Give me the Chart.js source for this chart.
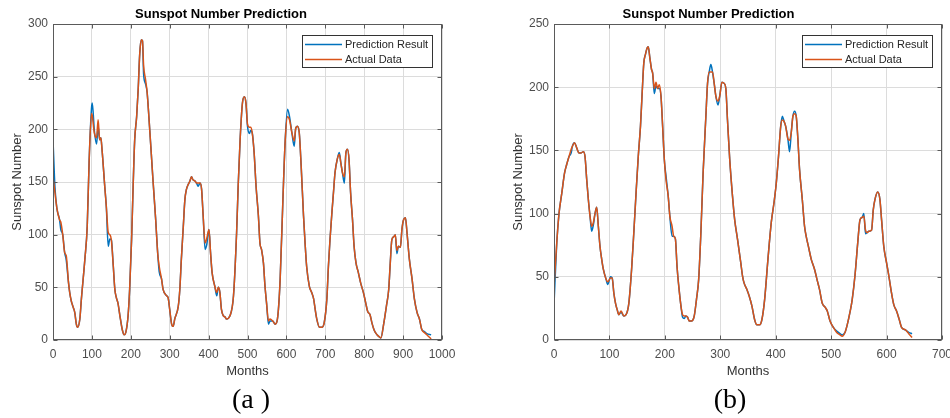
<!DOCTYPE html>
<html>
<head>
<meta charset="utf-8">
<title>Sunspot Number Prediction</title>
<script src="https://cdn.jsdelivr.net/npm/chart.js@4"></script>
<style>
html, body { margin: 0; padding: 0; background: #fff; overflow: hidden; }
body { width: 950px; height: 418px; position: relative; }
canvas { position: absolute; top: 0; }
#chartA { left: 0; }
#chartB { left: 475px; }
.caption {
    position: absolute; top: 385px; width: 120px; text-align: center;
    font-family: "Liberation Serif", "Times New Roman", serif;
    font-size: 28px; line-height: 28px; color: #000;
}
</style>
</head>
<body>
<canvas id="chartA" width="475" height="385"></canvas>
<canvas id="chartB" width="490" height="385"></canvas>
<div class="caption" style="left:191px">(a )</div>
<div class="caption" style="left:670px">(b)</div>
<script>
// (a) months / values
const monthsA = [
    0, 5, 10, 17, 20, 25, 30, 34, 40, 43,
    47, 52, 56, 60, 63, 69, 73, 82, 88, 93,
    99, 101, 106, 112, 116, 120, 123, 126, 133, 137,
    142, 146, 150, 155, 159, 163, 167, 172, 178, 183,
    187, 193, 197, 202, 206, 210, 215, 219, 223, 227,
    230, 233, 238, 242, 247, 253, 257, 264, 269, 273,
    279, 283, 292, 296, 300, 305, 309, 313, 322, 326,
    330, 335, 339, 343, 348, 352, 356, 360, 365, 369,
    373, 378, 382, 386, 391, 395, 401, 405, 409, 416,
    421, 425, 429, 433, 438, 442, 446, 455, 464, 472,
    476, 481, 487, 492, 496, 500, 505, 508, 512, 517,
    522, 528, 532, 536, 541, 545, 549, 554, 558, 565,
    571, 577, 584, 591, 597, 603, 608, 614, 620, 624,
    628, 633, 638, 644, 648, 652, 659, 665, 670, 674,
    678, 685, 691, 697, 704, 708, 712, 717, 721, 725,
    731, 736, 740, 744, 749, 753, 757, 761, 765, 770,
    774, 779, 785, 791, 798, 804, 809, 815, 820, 826,
    833, 839, 843, 850, 857, 863, 867, 871, 876, 880,
    884, 888, 893, 897, 901, 906, 910, 916, 923, 929,
    936, 942, 948, 955, 961, 972
]
const actualA = [
    155, 140, 125, 114, 112, 100, 83, 80, 54, 45,
    37, 31, 26, 15, 12, 20, 39, 77, 108, 171,
    215, 213, 197, 192, 209, 190, 192, 181, 146, 127,
    102, 100, 95, 70, 48, 40, 35, 23, 10, 5,
    7, 23, 48, 95, 146, 190, 212, 238, 272, 285,
    284, 260, 247, 235, 209, 175, 152, 114, 83, 70,
    58, 48, 42, 40, 29, 15, 13, 20, 32, 48,
    77, 108, 133, 143, 148, 151, 155, 152, 151, 149,
    149, 149, 143, 118, 92, 96, 105, 83, 64, 51,
    45, 50, 45, 29, 23, 22, 20, 23, 42, 102,
    146, 190, 225, 231, 225, 205, 202, 202, 197, 178,
    146, 118, 92, 86, 73, 51, 35, 18, 20, 18,
    15, 20, 58, 133, 190, 212, 209, 197, 189, 201,
    203, 197, 165, 118, 92, 70, 51, 45, 39, 29,
    20, 12, 12, 16, 39, 70, 95, 121, 140, 159,
    172, 176, 168, 159, 155, 178, 181, 171, 140, 114,
    89, 73, 64, 54, 45, 35, 27, 24, 16, 9,
    5, 3, 2, 15, 32, 48, 73, 95, 98, 100,
    85, 89, 88, 105, 114, 116, 102, 77, 58, 39,
    26, 20, 10, 7, 5, 1
]
const predA = [
    190, 145, 125, 114, 105, 100, 83, 76, 54, 45,
    37, 31, 26, 15, 12, 20, 39, 77, 108, 171,
    220, 225, 200, 186, 203, 190, 192, 181, 146, 127,
    89, 96, 95, 70, 48, 40, 35, 23, 10, 5,
    7, 23, 48, 95, 146, 190, 212, 238, 272, 285,
    284, 252, 243, 235, 209, 175, 152, 114, 83, 65,
    58, 48, 42, 40, 29, 15, 13, 20, 32, 48,
    77, 108, 133, 143, 148, 151, 155, 152, 151, 149,
    146, 149, 143, 118, 86, 90, 105, 83, 64, 51,
    42, 50, 45, 29, 23, 22, 20, 23, 42, 102,
    146, 190, 225, 231, 225, 203, 196, 199, 197, 178,
    146, 118, 92, 86, 73, 51, 35, 15, 18, 18,
    15, 20, 58, 133, 190, 219, 212, 197, 184, 201,
    203, 197, 165, 118, 92, 70, 51, 45, 39, 29,
    20, 12, 12, 16, 39, 70, 95, 121, 140, 159,
    172, 178, 168, 159, 149, 178, 181, 171, 140, 114,
    89, 73, 64, 54, 45, 35, 27, 24, 16, 9,
    5, 3, 2, 15, 32, 48, 73, 95, 98, 100,
    82, 89, 88, 105, 114, 116, 102, 77, 58, 39,
    26, 20, 10, 8, 6, 5
]

// (b) right panel
const monthsB = [
    0, 5, 9, 14, 19, 23, 27, 31, 33, 37,
    41, 45, 49, 53, 56, 59, 62, 65, 68, 71,
    74, 77, 80, 83, 86, 89, 94, 97, 102, 105,
    108, 111, 114, 117, 121, 126, 130, 135, 140, 144,
    148, 152, 156, 159, 162, 165, 168, 170, 173, 176,
    178, 181, 184, 187, 190, 193, 196, 199, 202, 206,
    209, 213, 216, 219, 222, 225, 229, 232, 235, 238,
    241, 244, 248, 253, 257, 261, 265, 269, 274, 277,
    280, 283, 286, 289, 292, 296, 299, 303, 307, 310,
    313, 317, 322, 326, 331, 337, 340, 343, 348, 352,
    357, 362, 366, 371, 375, 380, 386, 392, 397, 401,
    405, 409, 412, 415, 418, 422, 425, 428, 431, 434,
    437, 440, 443, 448, 452, 455, 460, 464, 470, 475,
    479, 484, 489, 493, 498, 504, 510, 516, 520, 525,
    529, 534, 538, 543, 548, 552, 556, 559, 562, 565,
    568, 573, 576, 579, 584, 588, 591, 595, 600, 604,
    609, 613, 618, 623, 627, 634, 640, 646
]
const actualB = [
    42, 77, 100, 116, 132, 139, 145, 151, 153, 156,
    152, 148, 148, 149, 145, 127, 111, 98, 90, 93,
    100, 105, 90, 74, 64, 56, 48, 46, 49, 49,
    37, 29, 24, 20, 23, 19, 20, 29, 56, 85,
    116, 145, 169, 195, 219, 226, 231, 232, 223, 214,
    211, 199, 204, 199, 202, 193, 169, 143, 127, 114,
    98, 90, 82, 80, 58, 43, 27, 20, 19, 19,
    18, 15, 15, 19, 32, 48, 85, 132, 177, 203,
    212, 212, 212, 203, 193, 189, 193, 204, 203, 199,
    174, 143, 114, 95, 80, 61, 51, 45, 40, 35,
    27, 16, 12, 12, 16, 32, 64, 93, 109, 124,
    145, 169, 174, 173, 169, 159, 158, 164, 177, 179,
    177, 159, 135, 111, 90, 82, 72, 64, 56, 47,
    40, 29, 26, 23, 15, 10, 6, 4, 3, 6,
    12, 22, 32, 51, 77, 95, 97, 98, 87, 85,
    86, 87, 103, 111, 117, 111, 95, 74, 61, 51,
    37, 28, 23, 16, 10, 8, 5, 2
]
const predB = [
    28, 77, 100, 116, 132, 139, 145, 148, 153, 156,
    152, 148, 148, 149, 145, 127, 111, 98, 86, 91,
    100, 105, 90, 74, 64, 56, 48, 44, 50, 49,
    37, 29, 24, 20, 22, 19, 20, 29, 56, 85,
    116, 145, 169, 195, 219, 226, 231, 232, 223, 214,
    211, 195, 201, 199, 199, 193, 169, 143, 130, 114,
    98, 82, 82, 80, 58, 43, 27, 18, 17, 19,
    18, 15, 15, 19, 32, 48, 85, 132, 177, 203,
    212, 218, 212, 203, 193, 186, 193, 204, 203, 199,
    174, 143, 114, 95, 80, 61, 51, 45, 40, 35,
    27, 16, 12, 12, 16, 32, 64, 93, 109, 124,
    145, 169, 177, 173, 169, 159, 149, 164, 177, 181,
    177, 159, 135, 111, 90, 82, 72, 64, 56, 47,
    40, 29, 26, 23, 15, 10, 7, 5, 4, 6,
    12, 22, 32, 51, 77, 95, 97, 100, 84, 85,
    86, 87, 103, 111, 117, 111, 95, 74, 61, 51,
    37, 28, 23, 16, 10, 8, 6, 5
]

const seriesLabels = ["Prediction Result", "Actual Data"]
const chartTitle = "Sunspot Number Prediction"

Chart.defaults.font.family = '"Liberation Sans", Arial, sans-serif'

// matlab look: box, inward ticks, legend box in the top right corner
const matlabAxes = {
    id: 'matlabAxes',
    afterDraw(chart) {
        const ctx = chart.ctx
        const a = chart.chartArea
        const x = chart.scales.x
        const y = chart.scales.y
        const L = Math.round(a.left) + 0.5, R = Math.round(a.right) - 0.5
        const T = Math.round(a.top) + 0.5, B = Math.round(a.bottom) - 0.5
        ctx.save()
        ctx.strokeStyle = '#5a5a5a'
        ctx.lineWidth = 1
        ctx.beginPath()
        x.ticks.forEach(t => {
            const px = Math.round(x.getPixelForValue(t.value)) + 0.5
            ctx.moveTo(px, B); ctx.lineTo(px, B - 4)
            ctx.moveTo(px, T); ctx.lineTo(px, T + 4)
        })
        y.ticks.forEach(t => {
            const py = Math.round(y.getPixelForValue(t.value)) + 0.5
            ctx.moveTo(L, py); ctx.lineTo(L + 4, py)
            ctx.moveTo(R, py); ctx.lineTo(R - 4, py)
        })
        ctx.stroke()
        ctx.strokeRect(L, T, R - L, B - T)

        // legend
        ctx.font = '11px "Liberation Sans", Arial, sans-serif'
        const sets = chart.data.datasets
        const textW = Math.max(...sets.map(d => ctx.measureText(d.label).width))
        const w = Math.round(43 + textW + 4), h = 32
        const bx = Math.round(a.right) - 10 - w, by = Math.round(a.top) + 11
        ctx.fillStyle = '#fff'
        ctx.fillRect(bx, by, w, h)
        ctx.strokeStyle = '#333'
        ctx.strokeRect(bx + 0.5, by + 0.5, w, h)
        sets.forEach((d, i) => {
            const ly = by + 9 + i * 15
            ctx.strokeStyle = d.borderColor
            ctx.lineWidth = 1.5
            ctx.beginPath()
            ctx.moveTo(bx + 3, ly + 0.5)
            ctx.lineTo(bx + 40, ly + 0.5)
            ctx.stroke()
            ctx.fillStyle = '#262626'
            ctx.textBaseline = 'middle'
            ctx.textAlign = 'left'
            ctx.fillText(d.label, bx + 43, ly + 1)
        })
        ctx.restore()
    }
}

function buildChart(id, months, actual, pred, o) {
    const predPts = months.map((m, i) => ({x: m, y: pred[i]}))
    const actualPts = months.map((m, i) => ({x: m, y: actual[i]}))
    return new Chart(document.getElementById(id), {
        type: 'line',
        data: {
            datasets: [{
                label: seriesLabels[0],
                data: predPts,
                borderColor: '#0072BD',
                borderWidth: 1.5,
                pointRadius: 0,
                cubicInterpolationMode: 'monotone',
                order: 1
            }, {
                label: seriesLabels[1],
                data: actualPts,
                borderColor: '#D95319',
                borderWidth: 1.5,
                pointRadius: 0,
                cubicInterpolationMode: 'monotone',
                order: 0
            }]
        },
        options: {
            responsive: false,
            animation: false,
            events: [],
            layout: { padding: { left: 0, right: o.padRight, top: 0, bottom: 0 } },
            plugins: {
                legend: { display: false },
                tooltip: { enabled: false },
                title: {
                    display: true,
                    text: chartTitle,
                    color: '#000',
                    font: { size: 13, weight: 'bold' },
                    padding: { top: 7, bottom: 1.4 }
                }
            },
            scales: {
                x: {
                    type: 'linear',
                    min: 0,
                    max: o.xMax,
                    ticks: { stepSize: 100, color: '#4d4d4d', font: { size: 12 }, padding: 7, maxRotation: 0, autoSkip: false, format: { useGrouping: false } },
                    grid: { color: '#dcdcdc', drawTicks: false },
                    border: { display: false },
                    title: { display: true, text: 'Months', color: '#333', font: { size: 13 }, padding: { top: 0, bottom: 6 } },
                    afterFit(s) { s.height = 45 }
                },
                y: {
                    min: 0,
                    max: o.yMax,
                    ticks: { stepSize: 50, color: '#4d4d4d', font: { size: 12 }, padding: 5 },
                    grid: { color: '#dcdcdc', drawTicks: false },
                    border: { display: false },
                    title: { display: true, text: 'Sunspot Number', color: '#333', font: { size: 13 }, padding: { top: o.yTitlePad, bottom: 0 } },
                    afterFit(s) { s.width = o.yWidth }
                }
            }
        },
        plugins: [matlabAxes]
    })
}

buildChart('chartA', monthsA, actualA, predA, { xMax: 1000, yMax: 300, padRight: 33, yWidth: 53, yTitlePad: 10 })
buildChart('chartB', monthsB, actualB, predB, { xMax: 700, yMax: 250, padRight: 23, yWidth: 79, yTitlePad: 36 })
</script>
</body>
</html>
